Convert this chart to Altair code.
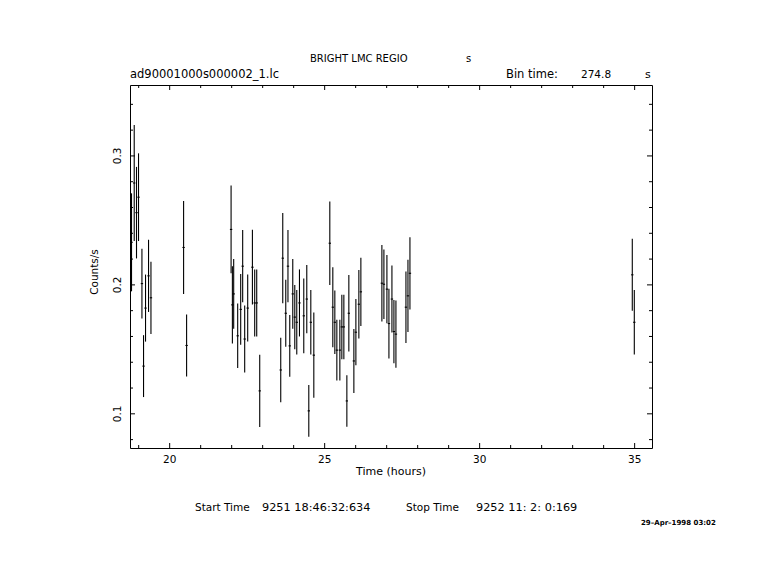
import altair as alt
import pandas as pd

# ---- data ----
times = [18.769, 18.856, 18.930, 18.995, 19.105, 19.157, 19.221, 19.318, 19.396,
         20.449, 20.546,
         21.981, 22.023, 22.065, 22.194, 22.291, 22.355, 22.420, 22.517, 22.669,
         22.743, 22.808, 22.905,
         23.583, 23.648, 23.745, 23.816, 23.874, 23.971, 24.036, 24.100, 24.187,
         24.326, 24.423, 24.488, 24.553, 24.650,
         25.166, 25.263, 25.328, 25.393, 25.490, 25.554, 25.619, 25.716, 25.780,
         25.942, 26.007, 26.103, 26.168,
         26.846, 26.911, 27.008, 27.073, 27.170, 27.234, 27.299, 27.622, 27.687, 27.751,
         34.924, 34.989]
rates = [0.233, 0.279, 0.256, 0.268, 0.201, 0.137, 0.182, 0.207, 0.190,
         0.229, 0.153,
         0.243, 0.1845, 0.193, 0.1605, 0.181, 0.2145, 0.158, 0.182, 0.2137,
         0.186, 0.186, 0.1178,
         0.134, 0.2207, 0.178, 0.2145, 0.1527, 0.193, 0.175, 0.171, 0.186,
         0.176, 0.189, 0.1023, 0.171, 0.1455,
         0.2323, 0.1827, 0.171, 0.1494, 0.1494, 0.1674, 0.1674, 0.110, 0.178,
         0.141, 0.1633, 0.185, 0.1946,
         0.2013, 0.2005, 0.1967, 0.170, 0.189, 0.1638, 0.1618, 0.1827, 0.1915, 0.209,
         0.2078, 0.171]
errors = [0.038, 0.045, 0.0355, 0.034, 0.027, 0.024, 0.026, 0.028, 0.028,
          0.036, 0.024,
          0.034, 0.030, 0.027, 0.025, 0.0275, 0.028, 0.026, 0.026, 0.029,
          0.026, 0.026, 0.028,
          0.025, 0.035, 0.026, 0.028, 0.024, 0.027, 0.025, 0.025, 0.026,
          0.029, 0.0265, 0.020, 0.025, 0.033,
          0.0324, 0.031, 0.0247, 0.0235, 0.0235, 0.025, 0.025, 0.020, 0.0297,
          0.0248, 0.0257, 0.0265, 0.0265,
          0.0297, 0.027, 0.0264, 0.027, 0.026, 0.0245, 0.026, 0.0277, 0.028, 0.028,
          0.0279, 0.025]
bin_seconds = 274.8

x_major = [20, 25, 30, 35]
x_major_labels = ["20", "25", "30", "35"]
x_minor = [19, 21, 22, 23, 24, 26, 27, 28, 29, 31, 32, 33, 34]
y_major = [0.1, 0.2, 0.3]
y_major_labels = ["0.1", "0.2", "0.3"]
y_minor = [0.08, 0.12, 0.14, 0.16, 0.18, 0.22, 0.24, 0.26, 0.28, 0.32, 0.34]

title_text = "BRIGHT LMC REGIO"
title_unit = "s"
file_text = "ad90001000s000002_1.lc"
bin_label = "Bin time:"
bin_value = "274.8"
bin_unit = "s"
x_title = "Time (hours)"
y_title = "Counts/s"
start_label = "Start Time"
start_stamp = "9251 18:46:32:634"
stop_label = "Stop Time"
stop_stamp = "9252 11: 2: 0:169"
stamp_text = "29\u2013Apr\u20131998 03:02"

# ---- build ----
FONT = "DejaVu Sans"
W, H = 522, 363
half_bin = bin_seconds / 3600.0 / 2.0

df = pd.DataFrame({"t": times, "v": rates, "e": errors})
df["lo"] = df["v"] - df["e"]
df["hi"] = df["v"] + df["e"]
df["t0"] = df["t"] - half_bin
df["t1"] = df["t"] + half_bin

xs = alt.Scale(domain=[18.72, 35.56], nice=False, zero=False)
ys = alt.Scale(domain=[0.0735, 0.355], nice=False, zero=False)

LW = 1.1

bars = alt.Chart(df).mark_rule(color="black", strokeWidth=LW).encode(
    x=alt.X("t:Q", scale=xs, axis=None),
    y=alt.Y("lo:Q", scale=ys, axis=None),
    y2="hi:Q",
)
caps = alt.Chart(df).mark_rule(color="black", strokeWidth=LW).encode(
    x=alt.X("t0:Q", scale=xs, axis=None),
    x2="t1:Q",
    y=alt.Y("v:Q", scale=ys, axis=None),
)

def xticks(vals, length):
    d = pd.DataFrame({"x": vals})
    bottom = alt.Chart(d).mark_rule(color="black", strokeWidth=1).encode(
        x=alt.X("x:Q", scale=xs, axis=None), y=alt.value(H), y2=alt.value(H - length))
    top = alt.Chart(d).mark_rule(color="black", strokeWidth=1).encode(
        x=alt.X("x:Q", scale=xs, axis=None), y=alt.value(0), y2=alt.value(length))
    return [bottom, top]

def yticks(vals, length):
    d = pd.DataFrame({"y": vals})
    left = alt.Chart(d).mark_rule(color="black", strokeWidth=1).encode(
        y=alt.Y("y:Q", scale=ys, axis=None), x=alt.value(0), x2=alt.value(length))
    right = alt.Chart(d).mark_rule(color="black", strokeWidth=1).encode(
        y=alt.Y("y:Q", scale=ys, axis=None), x=alt.value(W), x2=alt.value(W - length))
    return [left, right]

xlab = alt.Chart(pd.DataFrame({"x": x_major, "lab": x_major_labels})).mark_text(
    font=FONT, fontSize=10.5, align="center", baseline="middle", color="black"
).encode(x=alt.X("x:Q", scale=xs, axis=None), y=alt.value(H + 12), text="lab:N")

ylab = alt.Chart(pd.DataFrame({"y": y_major, "lab": y_major_labels})).mark_text(
    font=FONT, fontSize=10.5, align="center", baseline="middle", angle=270, color="black"
).encode(y=alt.Y("y:Q", scale=ys, axis=None), x=alt.value(-12), text="lab:N")

one = pd.DataFrame({"k": [0]})

def label(text, x, y, size=10, align="left", angle=0, weight="normal", font=FONT):
    return alt.Chart(one).mark_text(
        text=text, font=font, fontSize=size, align=align, baseline="middle",
        angle=angle, fontWeight=weight, color="black",
    ).encode(x=alt.value(x), y=alt.value(y))

texts = [
    label(title_text, 180, -26, 10),
    label(title_unit, 336, -26, 10),
    label(file_text, 0, -10, 11.5),
    label(bin_label, 376, -10, 11.5),
    label(bin_value, 451, -10, 10.5),
    label(bin_unit, 515, -10, 11),
    label(x_title, 261, 387, 11, align="center"),
    label(y_title, -35, 187, 10.5, align="center", angle=270),
    label(start_label, 65, 423, 10.5),
    label(start_stamp, 132, 423, 11.3),
    label(stop_label, 276, 423, 10.5),
    label(stop_stamp, 346, 423, 11.3),
    label(stamp_text, 511, 438, 7, weight="bold"),
]

layers = [bars, caps] + xticks(x_major, 5) + xticks(x_minor, 3) + \
         yticks(y_major, 5) + yticks(y_minor, 3) + [xlab, ylab] + texts

chart = alt.layer(*layers).properties(
    width=W, height=H,
    padding={"left": 122, "top": 77, "right": 121, "bottom": 112},
    autosize=alt.AutoSizeParams(type="none"),
    background="white",
).configure_view(stroke="black", strokeWidth=1)

chart.save("out.html", embed_options={"renderer": "svg", "actions": False})
